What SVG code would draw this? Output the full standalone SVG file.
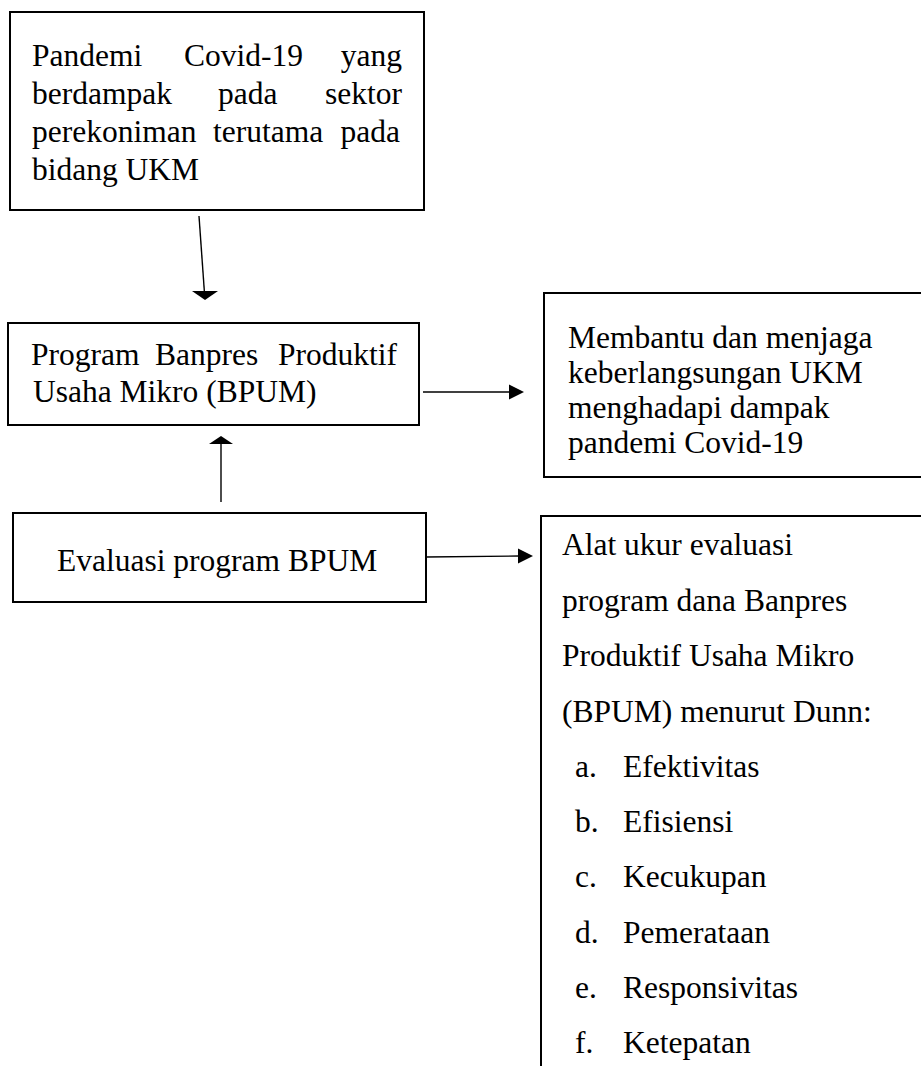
<svg xmlns="http://www.w3.org/2000/svg" width="921" height="1066" viewBox="0 0 921 1066">
<style>
.box{fill:#fff;stroke:#000;stroke-width:2}
.t{font-family:"Liberation Serif","Times New Roman",serif;font-size:31.5px;fill:#000}
.e{text-anchor:end}
.ln{stroke:#000;stroke-width:1.4;fill:none}
.hd{fill:#000}
</style>
<rect width="921" height="1066" fill="#fff"/>
<g id="node-pandemi">
<rect class="box" x="10" y="12" width="414" height="198"/>
<text class="t" x="32" y="66">Pandemi</text>
<text class="t" x="184" y="66">Covid-19</text>
<text class="t e" x="402" y="66">yang</text>
<text class="t" x="32" y="104">berdampak</text>
<text class="t" x="218" y="104">pada</text>
<text class="t e" x="402" y="104">sektor</text>
<text class="t" x="32" y="142">perekoniman</text>
<text class="t" x="213" y="142">terutama</text>
<text class="t e" x="400" y="142">pada</text>
<text class="t" x="32" y="180">bidang UKM</text>
</g>
<g id="node-program">
<rect class="box" x="8" y="323" width="411" height="102"/>
<text class="t" x="31" y="365">Program</text>
<text class="t" x="155" y="365">Banpres</text>
<text class="t e" x="397" y="365">Produktif</text>
<text class="t" x="33" y="402">Usaha Mikro (BPUM)</text>
</g>
<g id="node-membantu">
<rect class="box" x="544" y="293" width="390" height="184"/>
<text class="t" x="568" y="348">Membantu dan menjaga</text>
<text class="t" x="568" y="383">keberlangsungan UKM</text>
<text class="t" x="568" y="418">menghadapi dampak</text>
<text class="t" x="568" y="453">pandemi Covid-19</text>
</g>
<g id="node-evaluasi">
<rect class="box" x="13" y="513" width="413" height="89"/>
<text class="t" x="57" y="571">Evaluasi program BPUM</text>
</g>
<g id="node-alat">
<path class="box" d="M541 1070 V516 H930"/>
<text class="t" x="562" y="555">Alat ukur evaluasi</text>
<text class="t" x="562" y="611">program dana Banpres</text>
<text class="t" x="562" y="666">Produktif Usaha Mikro</text>
<text class="t" x="562" y="722">(BPUM) menurut Dunn:</text>
<text class="t" x="575" y="777">a.</text><text class="t" x="623" y="777">Efektivitas</text>
<text class="t" x="575" y="832">b.</text><text class="t" x="623" y="832">Efisiensi</text>
<text class="t" x="575" y="887">c.</text><text class="t" x="623" y="887">Kecukupan</text>
<text class="t" x="575" y="943">d.</text><text class="t" x="623" y="943">Pemerataan</text>
<text class="t" x="575" y="998">e.</text><text class="t" x="623" y="998">Responsivitas</text>
<text class="t" x="575" y="1053">f.</text><text class="t" x="623" y="1053">Ketepatan</text>
</g>
<g id="connectors">
<line class="ln" x1="199" y1="216" x2="204.4" y2="292"/>
<polygon class="hd" points="192,291 218,291 205,300"/>
<line class="ln" x1="221" y1="502" x2="221" y2="443"/>
<polygon class="hd" points="209,444 233,444 221,436"/>
<line class="ln" x1="423" y1="392" x2="510" y2="392"/>
<polygon class="hd" points="509,384.5 509,399.5 524,392"/>
<line class="ln" x1="426" y1="557" x2="519" y2="556"/>
<polygon class="hd" points="518,548.5 518,563.5 533,556"/>
</g>
</svg>
